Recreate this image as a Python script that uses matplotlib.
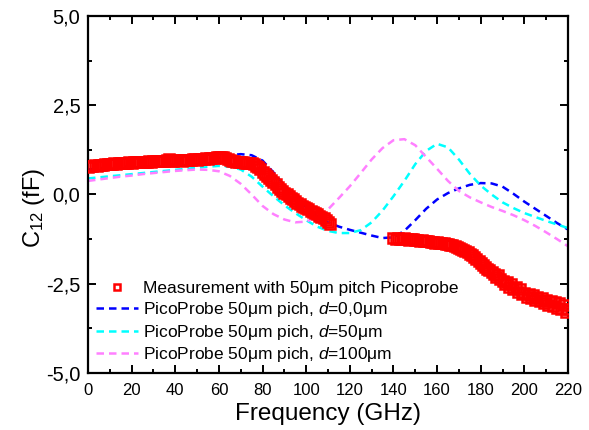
import numpy as np
import matplotlib
matplotlib.use("Agg")
import matplotlib.pyplot as plt
from matplotlib.ticker import MultipleLocator, FuncFormatter

plt.rcParams['font.family'] = ['Liberation Sans', 'DejaVu Sans']
plt.rcParams['mathtext.fontset'] = 'custom'
plt.rcParams['mathtext.rm'] = 'Liberation Sans'
plt.rcParams['mathtext.it'] = 'Liberation Sans:italic'

# ---- Measurement, segment 1 (0..111 GHz) ----
meas1_f = list(range(0, 112))
meas1_c = [0.76, 0.80, 0.79, 0.82, 0.81, 0.83, 0.84, 0.83, 0.85, 0.86, 0.85,
           0.86, 0.87, 0.86, 0.88, 0.87, 0.88, 0.89, 0.88, 0.90, 0.89,
           0.90, 0.91, 0.90, 0.91, 0.92, 0.91, 0.92, 0.93, 0.92, 0.93,
           0.93, 0.94, 0.93, 0.95, 0.94, 0.96, 0.99, 0.95, 0.94, 0.96,
           0.97, 0.96, 0.95, 0.97, 0.98, 0.97, 0.96, 0.99, 1.00, 0.98,
           0.99, 1.00, 0.99, 1.01, 1.00, 1.02, 1.01, 1.03, 1.05, 1.06,
           1.05, 1.04, 1.03, 1.00, 0.97, 0.95, 0.93, 0.92, 0.91, 0.90,
           0.90, 0.89, 0.89, 0.88, 0.87, 0.85, 0.81, 0.76, 0.70, 0.64,
           0.58, 0.52, 0.46, 0.40, 0.34, 0.28, 0.22, 0.16, 0.10, 0.04,
           0.00, -0.05, -0.10, -0.14, -0.19, -0.23, -0.27, -0.31, -0.35, -0.38,
           -0.42, -0.45, -0.49, -0.52, -0.56, -0.60, -0.63, -0.67, -0.72, -0.78, -0.84]

# ---- Measurement, segment 2 (140..220 GHz) ----
meas2_f = list(range(140, 221))
meas2_c = [-1.22, -1.25, -1.21, -1.24, -1.26, -1.23, -1.25, -1.27, -1.24, -1.26, -1.28,
           -1.27, -1.29, -1.28, -1.30, -1.31, -1.30, -1.33, -1.32, -1.35, -1.34,
           -1.36, -1.37, -1.36, -1.39, -1.40, -1.42, -1.41, -1.45, -1.47, -1.50,
           -1.52, -1.55, -1.58, -1.62, -1.66, -1.70, -1.74, -1.82, -1.86, -1.92,
           -1.98, -2.02, -2.08, -2.12, -2.18, -2.22, -2.30, -2.26, -2.38, -2.42,
           -2.50, -2.45, -2.58, -2.52, -2.66, -2.60, -2.72, -2.65, -2.80, -2.76,
           -2.86, -2.78, -2.90, -2.82, -2.95, -2.88, -2.98, -2.90, -3.05, -2.95,
           -3.10, -2.98, -3.12, -3.02, -3.18, -3.05, -3.22, -3.10, -3.28, -3.20]

# ---- Simulations ----
sim_f = [0, 5, 10, 15, 20, 25, 30, 35, 40, 45, 50, 55, 60, 65, 70, 75, 80, 85, 90, 95,
         100, 105, 110, 115, 120, 125, 130, 135, 140, 145, 150, 155, 160, 165, 170,
         175, 180, 185, 190, 195, 200, 205, 210, 215, 220]
sim_d0 = [0.70, 0.73, 0.76, 0.78, 0.80, 0.82, 0.84, 0.86, 0.88, 0.91, 0.94, 0.98, 1.03,
          1.10, 1.13, 1.10, 0.95, 0.62, 0.25, -0.08, -0.36, -0.60, -0.78, -0.90, -0.99,
          -1.07, -1.15, -1.22, -1.20, -1.02, -0.72, -0.40, -0.14, 0.04, 0.17, 0.27, 0.32,
          0.31, 0.22, 0.02, -0.20, -0.40, -0.60, -0.80, -0.98]
sim_d50 = [0.45, 0.48, 0.51, 0.54, 0.57, 0.60, 0.63, 0.66, 0.69, 0.72, 0.75, 0.78, 0.80,
           0.78, 0.70, 0.50, 0.22, -0.05, -0.30, -0.52, -0.72, -0.90, -1.02, -1.08, -1.08,
           -1.00, -0.78, -0.45, -0.05, 0.38, 0.85, 1.22, 1.42, 1.32, 0.98, 0.58, 0.25,
           0.00, -0.22, -0.38, -0.52, -0.63, -0.74, -0.84, -0.94]
sim_d100 = [0.38, 0.42, 0.46, 0.50, 0.53, 0.57, 0.60, 0.63, 0.66, 0.68, 0.70, 0.69, 0.65,
            0.52, 0.30, 0.00, -0.32, -0.55, -0.70, -0.78, -0.76, -0.62, -0.42, -0.10, 0.23,
            0.60, 0.98, 1.30, 1.52, 1.55, 1.38, 1.05, 0.72, 0.38, 0.10, -0.08, -0.22,
            -0.35, -0.46, -0.58, -0.72, -0.88, -1.06, -1.25, -1.45]

labels = ["Measurement with 50\u03bcm pitch Picoprobe",
          "PicoProbe 50\u03bcm pich, $\\it{d}$=0,0\u03bcm",
          "PicoProbe 50\u03bcm pich, $\\it{d}$=50\u03bcm",
          "PicoProbe 50\u03bcm pich, $\\it{d}$=100\u03bcm"]
colors = ['#FF0000', '#0000FF', '#00FFFF', '#FF80FF']

fig = plt.figure(figsize=(5.89, 4.30), dpi=100)
ax = fig.add_axes([0.1494, 0.1326, 0.8149, 0.8302])

dash = (3.0, 2.0)
ax.plot(sim_f, sim_d0, color=colors[1], lw=1.8, dashes=dash, label=labels[1], zorder=2)
ax.plot(sim_f, sim_d50, color=colors[2], lw=1.8, dashes=dash, label=labels[2], zorder=2)
ax.plot(sim_f, sim_d100, color=colors[3], lw=1.8, dashes=dash, label=labels[3], zorder=2)
ax.plot(meas1_f, meas1_c, ls='none', marker='s', ms=6.6, mfc='none', mec=colors[0], mew=1.8,
        label=labels[0], zorder=3)
ax.plot(meas2_f, meas2_c, ls='none', marker='s', ms=6.6, mfc='none', mec=colors[0], mew=1.8,
        zorder=3)

ax.set_xlim(0, 220)
ax.set_ylim(-5, 5)
ax.xaxis.set_major_locator(MultipleLocator(20))
ax.xaxis.set_minor_locator(MultipleLocator(10))
ax.yaxis.set_major_locator(MultipleLocator(2.5))
ax.yaxis.set_minor_locator(MultipleLocator(1.25))
ax.yaxis.set_major_formatter(FuncFormatter(lambda v, p: f"{v:.1f}".replace('.', ',')))
ax.tick_params(which='both', direction='in', top=True, right=True, width=1.4)
ax.tick_params(which='major', length=5.5)
ax.tick_params(which='minor', length=3)
ax.tick_params(axis='x', pad=7, labelsize=12)
ax.tick_params(axis='y', pad=5.5, labelsize=14.5)
for s in ax.spines.values():
    s.set_linewidth(1.6)

ax.set_xlabel("Frequency (GHz)", fontsize=17.5, labelpad=4)
ax.set_ylabel("C$_{12}$ (fF)", fontsize=17)
ax.yaxis.set_label_coords(-0.085, 0.462)

h, l = ax.get_legend_handles_labels()
order = [3, 0, 1, 2]
ax.legend([h[i] for i in order], [l[i] for i in order], loc='lower left',
          bbox_to_anchor=(0.017, 0.024), frameon=False, fontsize=12.5,
          handlelength=2.4, handletextpad=0.3, labelspacing=0.22,
          borderpad=0, borderaxespad=0, markerscale=0.75)

fig.savefig("out.png", dpi=100)
